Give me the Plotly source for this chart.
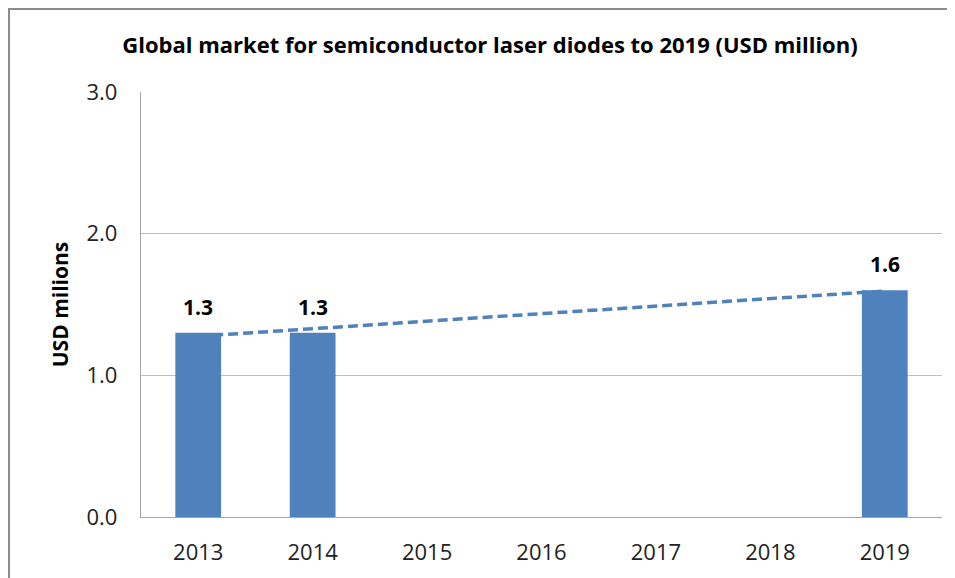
import numpy as np
import plotly.graph_objects as go

years = ["2013", "2014", "2015", "2016", "2017", "2018", "2019"]
values = [1.3, 1.3, None, None, None, None, 1.6]
label_text = ["1.3", "1.3", "", "", "", "", "1.6"]
y_ticks = [0.0, 1.0, 2.0, 3.0]
y_tick_labels = ["0.0", "1.0", "2.0", "3.0"]

# page body has an 8px margin, so the figure sits at (8, 8) in the window
W, H = 947, 570
L, R, T, B = 133, 934, 84, 509

# linear trendline fitted to the known points (as Excel does)
idx = [i + 1 for i, v in enumerate(values) if v is not None]
known = [v for v in values if v is not None]
slope, intercept = np.polyfit(idx, known, 1)
trend = [intercept + slope * (i + 1) for i in range(len(years))]

bar_color = "#4f81bd"
font = "Open Sans, Liberation Sans, sans-serif"

fig = go.Figure()
fig.add_trace(go.Scatter(
    x=years, y=trend, mode="lines",
    line=dict(color=bar_color, width=3.5, dash="10px,5px"),
    hoverinfo="skip", showlegend=False,
))
fig.add_trace(go.Bar(
    x=years, y=values, width=0.4,
    marker=dict(color=bar_color, line=dict(width=0)),
    showlegend=False,
))

# category axis: annotations are placed by category index
labels = [
    dict(x=i, y=v, text=f"<b>{t}</b>", showarrow=False,
         yanchor="middle", yshift=26,
         font=dict(family=font, size=21, color="black"))
    for i, (v, t) in enumerate(zip(values, label_text)) if v is not None
]


def px_x(p):
    return (p - L) / (R - L)


def px_y(p):
    return (B - p) / (B - T)


fig.update_layout(
    width=W, height=H,
    margin=dict(l=L, r=W - R, t=T, b=H - B, autoexpand=False),
    plot_bgcolor="white", paper_bgcolor="white",
    font=dict(family=font, color="black"),
    title=dict(
        text="<b>Global market for semiconductor laser diodes to 2019 (USD million)</b>",
        x=px_x(482), xref="paper", xanchor="center",
        y=1 - 37 / H, yanchor="middle",
        font=dict(family=font, size=22, color="black"),
    ),
    xaxis=dict(
        type="category", range=[-0.5, len(years) - 0.5],
        showgrid=False, showline=True,
        linecolor="#a6a6a6", linewidth=1.3, ticks="",
        tickfont=dict(family=font, size=22, color="#222"),
        ticklabelstandoff=15,
    ),
    yaxis=dict(
        range=[0, 3], tickvals=y_ticks, ticktext=y_tick_labels,
        showgrid=True, gridcolor="#bfbfbf", gridwidth=1,
        showline=True, linecolor="#a6a6a6", linewidth=1.3,
        zeroline=False, ticks="",
        tickfont=dict(family=font, size=22, color="#222"),
        ticklabelstandoff=18,
        title=dict(text="<b>USD milions</b>", standoff=12,
                   font=dict(family=font, size=21, color="black")),
    ),
    annotations=labels,
    shapes=[
        dict(type="line", xref="paper", yref="paper",
             x0=px_x(0), x1=px_x(W), y0=px_y(1), y1=px_y(1),
             line=dict(color="#8c8c8c", width=2)),
        dict(type="line", xref="paper", yref="paper",
             x0=px_x(1), x1=px_x(1), y0=px_y(0), y1=px_y(H),
             line=dict(color="#8c8c8c", width=2)),
    ],
)

fig.write_html("out.html")
